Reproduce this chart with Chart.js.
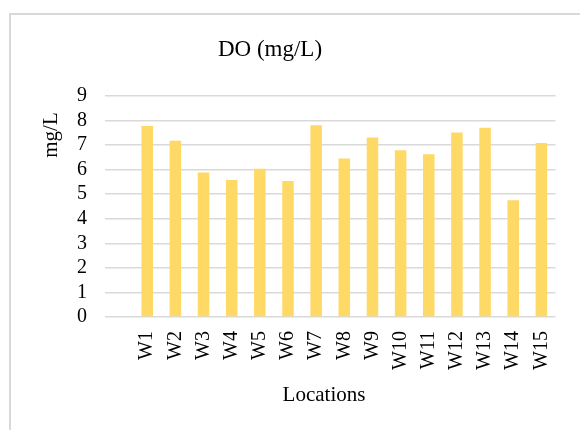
<!DOCTYPE html>
<html>
<head>
<meta charset="utf-8">
<title>DO (mg/L)</title>
<script src="https://cdn.jsdelivr.net/npm/chart.js@4/dist/chart.umd.min.js"></script>
<style>
  html, body { margin: 0; padding: 0; background: #ffffff; overflow: hidden; }
  #wrap { position: relative; width: 580px; height: 430px; overflow: hidden; }
  #frame {
    position: absolute; left: 9px; top: 13px; width: 620px; height: 480px;
    border-top: 2px solid #d9d9d9; border-left: 2px solid #d9d9d9;
    box-sizing: border-box;
  }
  canvas { position: absolute; left: 0; top: 0; }
</style>
</head>
<body>
<div id="wrap">
  <div id="frame"></div>
  <canvas id="chart" width="580" height="430"></canvas>
</div>
<script>
// Sampling locations and dissolved oxygen readings
const locations = ['W1', 'W2', 'W3', 'W4', 'W5', 'W6', 'W7', 'W8',
                   'W9', 'W10', 'W11', 'W12', 'W13', 'W14', 'W15'];
const doValues = [7.78, 7.18, 5.88, 5.58, 6.04, 5.54, 7.81, 6.45,
                  7.31, 6.79, 6.63, 7.51, 7.71, 4.75, 7.09];
const yTicks = [0, 1, 2, 3, 4, 5, 6, 7, 8, 9];

const chartTitle = 'DO (mg/L)';
const xTitle = 'Locations';
const yTitle = 'mg/L';

// The category axis keeps one empty slot ahead of the first location
const categories = [''].concat(locations);
const series = [null].concat(doValues);

const SERIF = "'Liberation Serif', 'Times New Roman', serif";

// Draws the chart title and the two axis captions
const captions = {
  id: 'captions',
  afterDraw(chart) {
    const ctx = chart.ctx;
    ctx.save();
    ctx.fillStyle = '#000000';
    ctx.textAlign = 'center';
    ctx.textBaseline = 'middle';

    ctx.font = '23px ' + SERIF;
    ctx.fillText(chartTitle, 270, 50);

    ctx.font = '21px ' + SERIF;
    ctx.fillText(xTitle, 324, 395);

    ctx.translate(51, 135);
    ctx.rotate(-Math.PI / 2);
    ctx.fillText(yTitle, 0, 0);
    ctx.restore();
  }
};

new Chart(document.getElementById('chart'), {
  type: 'bar',
  data: {
    labels: categories,
    datasets: [{
      label: chartTitle,
      data: series,
      backgroundColor: '#ffd966',
      borderWidth: 0,
      barPercentage: 0.41,
      categoryPercentage: 1.0
    }]
  },
  options: {
    responsive: false,
    devicePixelRatio: 1,
    animation: false,
    layout: { padding: { top: 96, right: 20, left: 0, bottom: 0 } },
    plugins: {
      legend: { display: false },
      title: { display: false },
      tooltip: { enabled: false }
    },
    scales: {
      x: {
        grid: { display: false, drawTicks: false },
        border: { display: false },
        ticks: {
          color: '#000000',
          font: { family: SERIF, size: 20 },
          minRotation: 90,
          maxRotation: 90,
          autoSkip: false,
          padding: 14
        },
        afterFit(scale) { scale.height = 113; }
      },
      y: {
        min: 0,
        max: 9,
        afterBuildTicks(scale) { scale.ticks = yTicks.map(v => ({ value: v })); },
        grid: { color: '#d9d9d9', lineWidth: 1.5, drawTicks: false },
        border: { display: false },
        ticks: {
          color: '#000000',
          font: { family: SERIF, size: 20 },
          stepSize: 1,
          autoSkip: false,
          padding: 18
        },
        afterFit(scale) { scale.width = 105; }
      }
    }
  },
  plugins: [captions]
});
</script>
</body>
</html>
